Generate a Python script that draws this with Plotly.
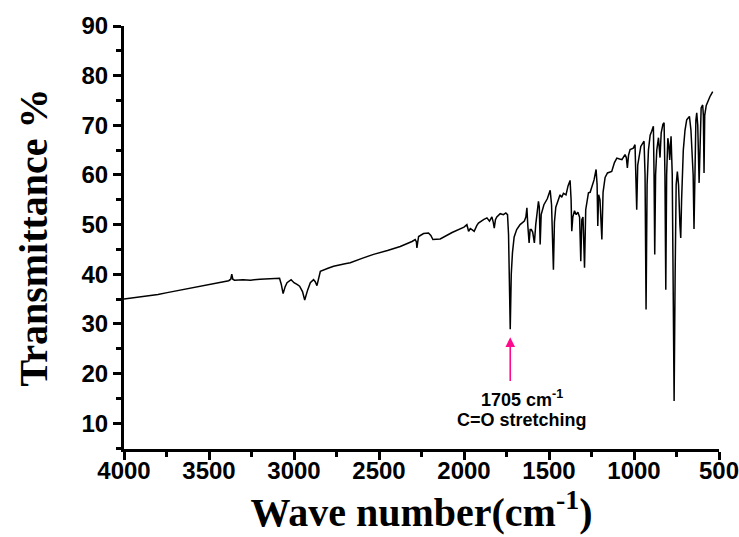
import plotly.graph_objects as go

# Wavenumber (cm^-1) and transmittance (%)
wavenumber = [
    4000, 3900, 3800, 3746, 3650, 3550, 3450, 3384, 3372, 3366, 3360, 3350, 3300, 3256, 3200,
    3110, 3085, 3075, 3064, 3052, 3041, 3017, 3000, 2980, 2967, 2950, 2937, 2920, 2904, 2885,
    2875, 2865, 2855, 2845, 2800, 2767, 2700, 2669, 2600, 2532, 2450, 2375, 2306, 2287, 2280,
    2277, 2272, 2267, 2238, 2209, 2195, 2183, 2140, 2070, 2000, 1993, 1983, 1973, 1963, 1953,
    1940, 1925, 1915, 1885, 1865, 1850, 1836, 1828, 1822, 1815, 1807, 1787, 1768, 1754, 1744,
    1738, 1734, 1728, 1722, 1715, 1705, 1690, 1670, 1645, 1636, 1630, 1625, 1617, 1611, 1604,
    1596, 1586, 1578, 1571, 1562, 1557, 1552, 1546, 1530, 1510, 1493, 1485, 1474, 1468, 1460,
    1445, 1435, 1425, 1415, 1400, 1388, 1376, 1370, 1366, 1360, 1350, 1340, 1330, 1320, 1313,
    1307, 1300, 1291, 1284, 1275, 1268, 1258, 1248, 1235, 1223, 1217, 1213, 1208, 1200, 1189,
    1182, 1170, 1156, 1140, 1131, 1115, 1101, 1085, 1071, 1053, 1045, 1039, 1032, 1023, 1004,
    994, 989, 984, 978, 970, 960, 941, 935, 929, 923, 915, 905, 896, 886, 882,
    878, 873, 866, 856, 847, 840, 830, 823, 818, 813, 808, 801, 795, 790, 786,
    782, 775, 770, 764, 758, 752, 745, 738, 730, 725, 720, 710, 700, 690, 680,
    674, 665, 660, 657, 652, 647, 642, 636, 631, 625, 617, 610, 605, 596, 592,
    588, 584, 575, 563, 553, 545, 537,
]
transmittance = [
    35.0, 35.4, 35.9, 36.3, 36.9, 37.6, 38.2, 38.7, 39.0, 40.0, 39.0, 38.8, 38.9, 38.8, 39.0,
    39.2, 39.2, 38.0, 36.1, 37.5, 38.3, 38.9, 38.3, 37.9, 37.6, 36.5, 34.8, 36.8, 38.3, 38.9,
    38.5, 37.7, 39.5, 40.6, 41.2, 41.6, 42.1, 42.3, 43.2, 44.0, 44.8, 45.6, 46.6, 47.0, 46.5,
    45.3, 46.5, 47.6, 48.2, 48.3, 47.8, 47.0, 47.1, 48.4, 49.5, 49.7, 50.0, 48.65, 49.2, 49.0,
    48.65, 49.8, 50.3, 51.0, 51.35, 50.7, 51.55, 50.5, 49.3, 51.0, 51.55, 52.2, 52.0, 52.35, 52.0,
    48.0, 42.3, 28.9, 40.0, 44.3, 47.5, 49.0, 50.0, 50.7, 51.5, 53.4, 50.0, 46.3, 49.0, 49.0,
    48.5, 46.3, 50.0, 52.5, 54.7, 53.5, 46.0, 52.0, 54.0, 55.2, 56.9, 54.0, 40.9, 50.5, 53.5,
    55.0, 56.0, 55.5, 56.3, 56.0, 57.8, 58.9, 55.0, 48.65, 51.5, 52.8, 52.0, 52.5, 51.5, 42.6,
    51.0, 51.5, 41.3, 53.0, 55.0, 56.4, 56.5, 57.7, 59.0, 61.1, 58.0, 49.7, 56.0, 55.0, 47.0,
    56.5, 59.5, 60.4, 60.5, 60.7, 62.5, 63.4, 63.2, 63.1, 64.1, 63.5, 61.4, 64.0, 65.1, 65.4,
    66.1, 60.0, 53.0, 62.0, 64.0, 65.75, 66.8, 60.0, 32.9, 58.0, 65.0, 68.0, 68.8, 69.8, 60.0,
    44.0, 60.0, 65.0, 67.5, 63.5, 68.5, 70.2, 70.5, 60.0, 36.9, 60.0, 67.4, 66.0, 63.0, 67.0,
    67.8, 60.0, 40.0, 14.45, 40.0, 58.0, 60.7, 58.0, 50.0, 47.3, 55.0, 65.0, 69.0, 71.1, 71.5,
    71.8, 69.0, 66.0, 63.1, 60.0, 49.1, 62.0, 71.0, 72.5, 70.0, 58.4, 72.0, 73.5, 74.1, 72.0,
    60.4, 72.0, 74.0, 75.2, 75.8, 76.3, 76.8,
]

x_ticks = [4000, 3500, 3000, 2500, 2000, 1500, 1000, 500]
y_ticks = [10, 20, 30, 40, 50, 60, 70, 80, 90]

peak_wn = 1728          # position of the carbonyl band in the plotted trace
arrow_tail, arrow_head = 18.2, 27.3
label_line1 = "1705 cm<sup>-1</sup>"
label_line2 = "C=O stretching"

fig = go.Figure()
fig.add_trace(go.Scatter(
    x=wavenumber, y=transmittance, mode="lines",
    line=dict(color="black", width=1.5), showlegend=False, hoverinfo="skip",
))

fig.add_annotation(
    x=peak_wn, y=arrow_head, ax=peak_wn, ay=arrow_tail,
    xref="x", yref="y", axref="x", ayref="y",
    text="", showarrow=True, arrowhead=2, arrowsize=1.2, arrowwidth=1.6,
    arrowcolor="#FF0A8C",
)
labfont = dict(family="Liberation Sans, Arial, sans-serif", size=18, color="black", weight="bold")
fig.add_annotation(x=1657, y=15.0, xref="x", yref="y", text=label_line1, showarrow=False, font=labfont)
fig.add_annotation(x=1657, y=10.6, xref="x", yref="y", text=label_line2, showarrow=False, font=labfont)

tickfont = dict(family="Liberation Sans, Arial, sans-serif", size=24, color="black", weight="bold")
titlefont = dict(family="Liberation Serif, Times New Roman, serif", size=40, color="black", weight="bold")

fig.update_xaxes(
    range=[4000, 500], tickmode="array", tickvals=x_ticks, ticktext=[str(v) for v in x_ticks],
    showline=True, linecolor="black", linewidth=3, ticks="outside", ticklen=8, tickwidth=3,
    tickcolor="black", tickfont=tickfont, showgrid=False, zeroline=False, mirror=False,
    ticklabeloverflow="allow", automargin=False, ticklabelstandoff=-10,
    minor=dict(dtick=250, tick0=500, ticks="outside", ticklen=5, tickwidth=2.5, tickcolor="black", showgrid=False),
    title=dict(text="Wave number(cm<sup>-1</sup>)", font=titlefont, standoff=6),
)
fig.update_yaxes(
    range=[4.8, 90], tickmode="array", tickvals=y_ticks, ticktext=[str(v) for v in y_ticks],
    showline=True, linecolor="black", linewidth=3, ticks="outside", ticklen=8, tickwidth=3,
    tickcolor="black", tickfont=tickfont, showgrid=False, zeroline=False, mirror=False,
    ticklabeloverflow="allow", automargin=False,
    minor=dict(dtick=5, tick0=5, ticks="outside", ticklen=5, tickwidth=2.5, tickcolor="black", showgrid=False),
    title=dict(text="Transmittance %", font=titlefont, standoff=22),
)

fig.update_layout(
    width=739, height=537,
    margin=dict(l=124, r=20, t=26, b=88),
    paper_bgcolor="white", plot_bgcolor="white",
)

fig.write_html("out.html")
